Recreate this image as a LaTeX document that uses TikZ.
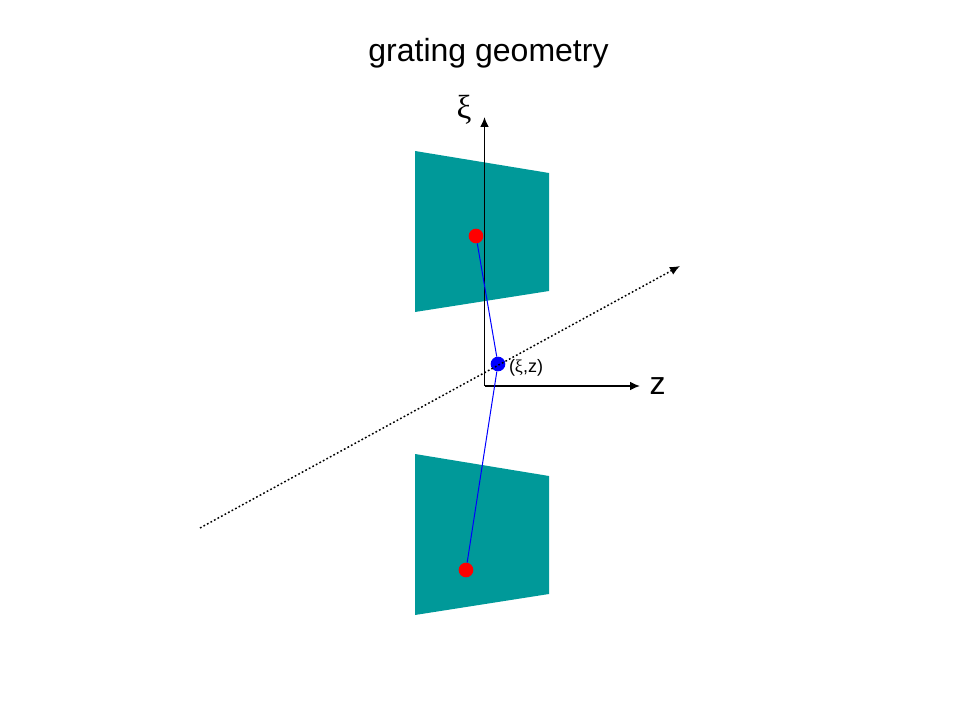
\documentclass[tikz,border=0pt]{standalone}
\usepackage{fontspec}
\setmainfont{Liberation Sans}
\newfontfamily\xifont{Liberation Serif}
\usetikzlibrary{arrows.meta,positioning}
\definecolor{gratingteal}{HTML}{009999}
\tikzset{
	dot/.style={circle,inner sep=0pt,minimum size=11pt},
	axis/.style={-{Latex[length=7.5pt,width=6.5pt]},line width=1pt},
	beam/.style={-{Latex[length=7.5pt,width=6.5pt]},line width=1.1pt,dash pattern=on 1.3pt off 1.7pt},
	ray/.style={blue,line width=0.75pt}
}

\begin{document}
\begin{tikzpicture}[x=0.75pt,y=-0.75pt]
	\useasboundingbox (0,0) rectangle (960,720);

	\fill [gratingteal] (415,151) -- (549,173) -- (549,291) -- (415,312) -- cycle;
	\fill [gratingteal] (415,454) -- (549,476) -- (549,594) -- (415,615) -- cycle;

	\node (title) at (488.5,53) {\fontsize{24}{28}\selectfont grating geometry};
	\coordinate (origin) at (484.5,386);
	\coordinate (xiend) at (484.5,117);
	\coordinate (zend) at (640,386);
	\coordinate (beamstart) at (200,528);
	\coordinate (beamend) at (680,266);
	\node (xilabel) at (464,110) {\fontsize{25}{28}\selectfont\xifont ξ};
	\node (zlabel) at (657.5,386) {\fontsize{24}{28}\selectfont z};
	\node (pointlabel) at (526,368) {\fontsize{13.5}{16}\selectfont (\xifont ξ\normalfont,z)};

	\node [dot,fill=red] (slit1) at (476,236) {};
	\node [dot,fill=red] (slit2) at (466,570) {};
	\node [dot,fill=blue] (point) at (498,364) {};

	\draw [axis] (origin) to (xiend);
	\draw [axis] (origin) to (zend);
	\draw [beam] (beamstart) to (beamend);
	\draw [ray] (slit1) to (point);
	\draw [ray] (point) to (slit2);
\end{tikzpicture}
\end{document}
